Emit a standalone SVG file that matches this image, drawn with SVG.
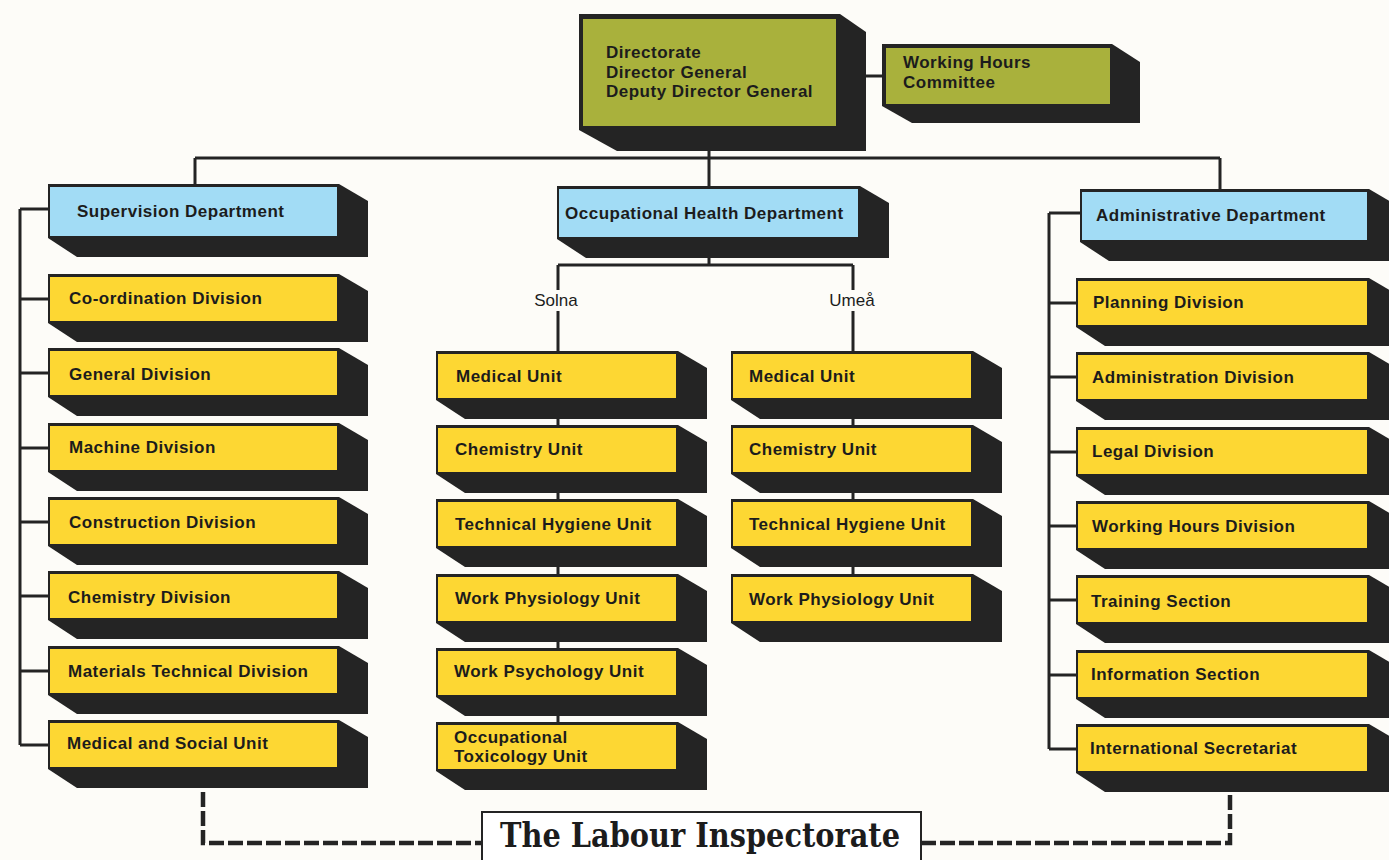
<svg xmlns="http://www.w3.org/2000/svg" xmlns:xlink="http://www.w3.org/1999/xlink" width="1389" height="860" viewBox="0 0 1389 860">
<style>
.bg{fill:#fdfcf8}
.dk{fill:#242424}
.yel{fill:#fdd733}
.blu{fill:#a2dcf5}
.olv{fill:#a9b13c}
.t{font-family:"Liberation Sans",Arial,sans-serif;font-weight:bold;font-size:17px;fill:#1c1c1c;letter-spacing:0.5px}
.lbl{font-family:"Liberation Sans",Arial,sans-serif;font-size:17px;fill:#1c1c1c}
.ln{fill:none;stroke:#242424;stroke-width:3}
.dash{fill:none;stroke:#242424;stroke-width:4.5;stroke-dasharray:15 4}
.title{font-family:"DejaVu Serif","Liberation Serif",serif;font-weight:bold;font-size:34px;fill:#1c1c1c}
</style>
<defs>
<path id="shL" class="dk" d="M-2,-3 H289 L318,14 V65 H27 L-2,46 Z"/>
<path id="shS" class="dk" d="M-2,-3 H240 L269,14 V65 H27 L-2,46 Z"/>
<path id="shR" class="dk" d="M-2,-3 H291 L320,14 V65 H27 L-2,46 Z"/>
</defs>
<rect class="bg" x="0" y="0" width="1389" height="860"/>

<g id="connectors">
<path class="ln" d="M866,76 H885 M709,151 V189 M195,158 H1220 M195,158 V187 M1220,158 V192"/>
<path class="ln" d="M20,209 V745 M20,209 H50 M20,299 H50 M20,373 H50 M20,448 H50 M20,522 H50 M20,596 H50 M20,671 H50 M20,745 H50"/>
<path class="ln" d="M1049,213 V749 M1049,213 H1082 M1049,303 H1078 M1049,377 H1078 M1049,452 H1078 M1049,526 H1078 M1049,600 H1078 M1049,675 H1078 M1049,749 H1078"/>
<path class="ln" d="M709,250 V265 M558,265 H853 M558,265 V290 M558,311 V725 M853,265 V290 M853,311 V577"/>
<path class="dash" d="M203,792 V843 H482"/>
<path class="dash" d="M921,843 H1230 V792"/>
</g>

<g id="directorate">
<path class="dk" d="M579,14 H840 L866,32 V151 H617 L579,130 Z"/>
<rect class="olv" x="583" y="19" width="253" height="107"/>
<text class="t" x="606" y="58">Directorate</text>
<text class="t" x="606" y="78">Director General</text>
<text class="t" x="606" y="97">Deputy Director General</text>
</g>

<g id="working-hours-committee">
<path class="dk" d="M882,44 H1112 L1140,62 V123 H912 L882,106 Z"/>
<rect class="olv" x="886" y="48" width="224" height="56"/>
<text class="t" x="903" y="68">Working Hours</text>
<text class="t" x="903" y="88">Committee</text>
</g>

<g id="supervision-department" transform="translate(50,187)">
<path class="dk" d="M-2,-3 H289 L318,14 V70 H27 L-2,51 Z"/>
<rect class="blu" width="287" height="49"/>
<text class="t" x="27" y="30">Supervision Department</text>
</g>

<g id="occupational-health-department" transform="translate(559,189)">
<path class="dk" d="M-2,-3 H301 L330,14 V69 H27 L-2,50 Z"/>
<rect class="blu" width="299" height="48"/>
<text class="t" x="6" y="30">Occupational Health Department</text>
</g>

<g id="administrative-department" transform="translate(1082,192)">
<path class="dk" d="M-2,-3 H287 L316,14 V69 H27 L-2,50 Z"/>
<rect class="blu" width="285" height="48"/>
<text class="t" x="14" y="29">Administrative Department</text>
</g>

<g id="coordination-division" transform="translate(50,277)"><use href="#shL"/><rect class="yel" width="287" height="44"/><text class="t" x="19" y="27">Co-ordination Division</text></g>
<g id="general-division" transform="translate(50,351)"><use href="#shL"/><rect class="yel" width="287" height="44"/><text class="t" x="19" y="29">General Division</text></g>
<g id="machine-division" transform="translate(50,426)"><use href="#shL"/><rect class="yel" width="287" height="44"/><text class="t" x="19" y="27">Machine Division</text></g>
<g id="construction-division" transform="translate(50,500)"><use href="#shL"/><rect class="yel" width="287" height="44"/><text class="t" x="19" y="28">Construction Division</text></g>
<g id="chemistry-division" transform="translate(50,574)"><use href="#shL"/><rect class="yel" width="287" height="44"/><text class="t" x="18" y="29">Chemistry Division</text></g>
<g id="materials-technical-division" transform="translate(50,649)"><use href="#shL"/><rect class="yel" width="287" height="44"/><text class="t" x="18" y="28">Materials Technical Division</text></g>
<g id="medical-social-unit" transform="translate(50,723)"><use href="#shL"/><rect class="yel" width="287" height="44"/><text class="t" x="17" y="26">Medical and Social Unit</text></g>

<text class="lbl" x="556" y="306" text-anchor="middle">Solna</text>
<text class="lbl" x="852" y="306" text-anchor="middle">Umeå</text>

<g id="solna-medical-unit" transform="translate(438,354)"><use href="#shS"/><rect class="yel" width="238" height="44"/><text class="t" x="18" y="28">Medical Unit</text></g>
<g id="solna-chemistry-unit" transform="translate(438,428)"><use href="#shS"/><rect class="yel" width="238" height="44"/><text class="t" x="17" y="27">Chemistry Unit</text></g>
<g id="solna-technical-hygiene-unit" transform="translate(438,502)"><use href="#shS"/><rect class="yel" width="238" height="44"/><text class="t" x="17" y="28">Technical Hygiene Unit</text></g>
<g id="solna-work-physiology-unit" transform="translate(438,577)"><use href="#shS"/><rect class="yel" width="238" height="44"/><text class="t" x="17" y="27">Work Physiology Unit</text></g>
<g id="solna-work-psychology-unit" transform="translate(438,651)"><use href="#shS"/><rect class="yel" width="238" height="44"/><text class="t" x="16" y="26">Work Psychology Unit</text></g>
<g id="solna-occupational-toxicology-unit" transform="translate(438,725)"><use href="#shS"/><rect class="yel" width="238" height="44"/><text class="t" x="16" y="18">Occupational</text><text class="t" x="16" y="37">Toxicology Unit</text></g>

<g id="umea-medical-unit" transform="translate(733,354)"><use href="#shS"/><rect class="yel" width="238" height="44"/><text class="t" x="16" y="28">Medical Unit</text></g>
<g id="umea-chemistry-unit" transform="translate(733,428)"><use href="#shS"/><rect class="yel" width="238" height="44"/><text class="t" x="16" y="27">Chemistry Unit</text></g>
<g id="umea-technical-hygiene-unit" transform="translate(733,502)"><use href="#shS"/><rect class="yel" width="238" height="44"/><text class="t" x="16" y="28">Technical Hygiene Unit</text></g>
<g id="umea-work-physiology-unit" transform="translate(733,577)"><use href="#shS"/><rect class="yel" width="238" height="44"/><text class="t" x="16" y="28">Work Physiology Unit</text></g>

<g id="planning-division" transform="translate(1078,281)"><use href="#shR"/><rect class="yel" width="289" height="44"/><text class="t" x="15" y="27">Planning Division</text></g>
<g id="administration-division" transform="translate(1078,355)"><use href="#shR"/><rect class="yel" width="289" height="44"/><text class="t" x="14" y="28">Administration Division</text></g>
<g id="legal-division" transform="translate(1078,430)"><use href="#shR"/><rect class="yel" width="289" height="44"/><text class="t" x="14" y="27">Legal Division</text></g>
<g id="working-hours-division" transform="translate(1078,504)"><use href="#shR"/><rect class="yel" width="289" height="44"/><text class="t" x="14" y="28">Working Hours Division</text></g>
<g id="training-section" transform="translate(1078,578)"><use href="#shR"/><rect class="yel" width="289" height="44"/><text class="t" x="13" y="29">Training Section</text></g>
<g id="information-section" transform="translate(1078,653)"><use href="#shR"/><rect class="yel" width="289" height="44"/><text class="t" x="13" y="27">Information Section</text></g>
<g id="international-secretariat" transform="translate(1078,727)"><use href="#shR"/><rect class="yel" width="289" height="44"/><text class="t" x="12" y="27">International Secretariat</text></g>

<g id="labour-inspectorate">
<rect x="482" y="812" width="439" height="60" fill="#ffffff" stroke="#242424" stroke-width="2"/>
<text class="title" x="700" y="847" text-anchor="middle" textLength="400" lengthAdjust="spacingAndGlyphs">The Labour Inspectorate</text>
</g>
</svg>
